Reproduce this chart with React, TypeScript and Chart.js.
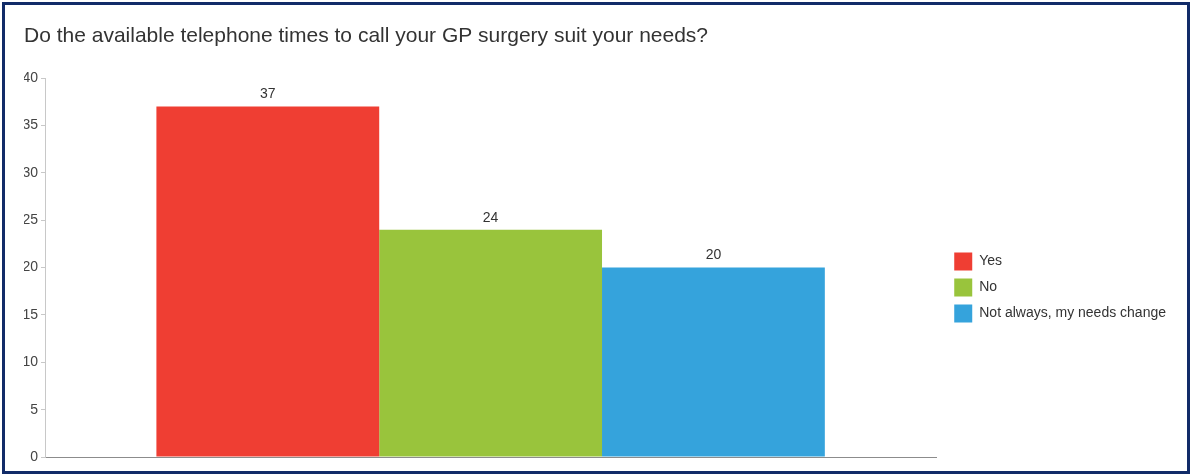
import React, { useEffect, useRef } from "react";
import { Chart, registerables } from "chart.js";

Chart.register(...registerables);

const titleText = "Do the available telephone times to call your GP surgery suit your needs?";
const categories = [""];
const seriesNames = ["Yes", "No", "Not always, my needs change"];
const seriesValues = [37, 24, 20];
const seriesColors = ["#EF3E33", "#99C43C", "#35A3DC"];
const yTicks = [0, 5, 10, 15, 20, 25, 30, 35, 40];

const FONT = "'Liberation Sans', Arial, sans-serif";

const valueLabels = {
  id: "valueLabels",
  afterDatasetsDraw(chart: any) {
    const ctx = chart.ctx;
    ctx.save();
    ctx.font = `14px ${FONT}`;
    ctx.fillStyle = "#333333";
    ctx.textAlign = "center";
    ctx.textBaseline = "bottom";
    chart.data.datasets.forEach((ds: any, i: number) => {
      const meta = chart.getDatasetMeta(i);
      meta.data.forEach((bar: any, j: number) => {
        ctx.fillText(String(ds.data[j]), bar.x, bar.y - 5);
      });
    });
    ctx.restore();
  },
};

export default function App() {
  const ref = useRef<HTMLCanvasElement | null>(null);
  useEffect(() => {
    if (!ref.current) return;
    const chart = new Chart(ref.current, {
      type: "bar",
      data: {
        labels: categories,
        datasets: seriesNames.map((name, i) => ({
          label: name,
          data: [seriesValues[i]],
          backgroundColor: seriesColors[i],
          borderWidth: 0,
          barPercentage: 1,
          categoryPercentage: 0.75,
        })),
      },
      options: {
        responsive: false,
        animation: false,
        layout: { padding: { left: 24, right: 14, top: 0, bottom: 9 } },
        plugins: {
          title: {
            display: true,
            text: titleText,
            align: "start",
            color: "#333333",
            font: { family: FONT, size: 21, weight: "normal" },
            padding: { top: 24, bottom: 29 },
          },
          legend: {
            position: "right",
            align: "center",
            maxWidth: 230,
            title: {
              display: true,
              text: " ",
              font: { family: FONT, size: 10, lineHeight: 1 },
              padding: { top: 50, bottom: 50 },
            },
            labels: {
              boxWidth: 18,
              boxHeight: 18,
              padding: 8,
              color: "#333333",
              font: { family: FONT, size: 14 },
            },
          },
          tooltip: { enabled: false },
        },
        scales: {
          x: {
            ticks: { display: false },
            grid: { display: false },
            border: { display: true, color: "#8c8c8c", width: 1 },
          },
          y: {
            min: 0,
            max: 40,
            afterBuildTicks: (scale: any) => {
              scale.ticks = yTicks.map((v) => ({ value: v }));
            },
            afterFit: (scale: any) => {
              scale.width = 21;
            },
            ticks: {
              color: "#444444",
              font: { family: FONT, size: 14 },
              padding: 3,
            },
            grid: {
              drawOnChartArea: false,
              drawTicks: true,
              tickLength: 4,
              color: "#c8c8c8",
            },
            border: { display: true, color: "#c8c8c8", width: 1 },
          },
          gap: {
            type: "linear",
            position: "right",
            display: true,
            min: 0,
            max: 1,
            ticks: { display: false },
            grid: { display: false },
            border: { display: false },
            afterFit: (scale: any) => {
              scale.width = 10;
            },
          },
        },
      },
      plugins: [valueLabels],
    });
    return () => chart.destroy();
  }, []);

  return (
    <div style={{ position: "fixed", left: 0, top: 0, width: 1190, height: 474, background: "#ffffff" }}>
      <canvas ref={ref} width={1190} height={474} style={{ position: "absolute", left: 0, top: 0 }} />
      <div
        style={{
          position: "absolute",
          left: 2,
          top: 2,
          width: 1188,
          height: 472,
          boxSizing: "border-box",
          border: "3px solid #112b68",
          pointerEvents: "none",
        }}
      />
    </div>
  );
}
